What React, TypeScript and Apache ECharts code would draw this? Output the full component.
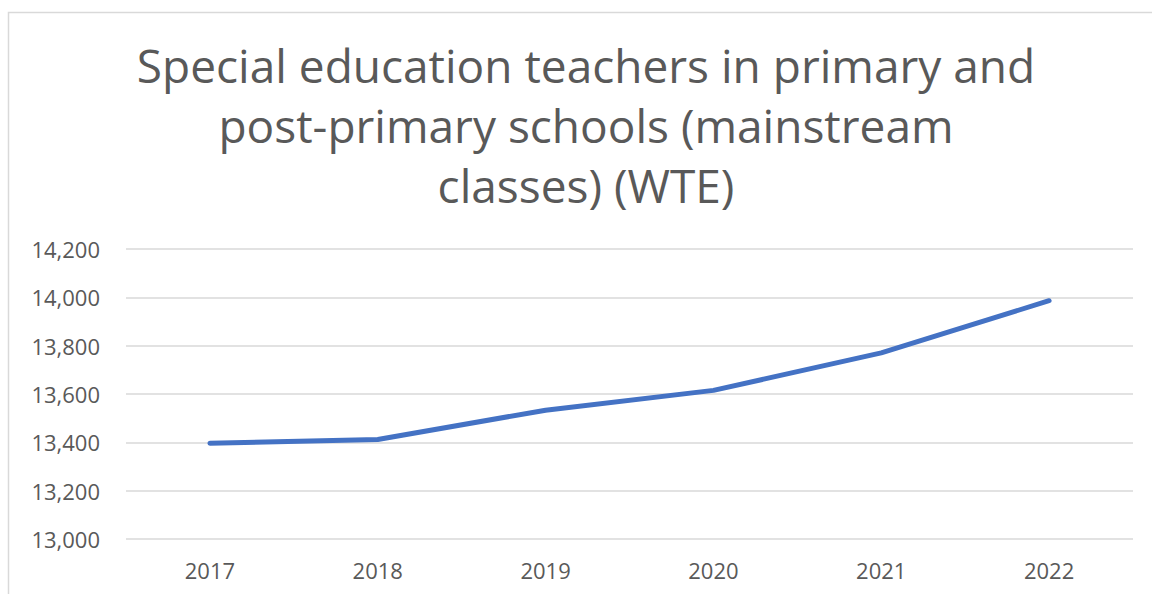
import React, { useEffect, useRef } from "react";
import * as echarts from "echarts";

const titleLines = [
  "Special education teachers in primary and",
  "post-primary schools (mainstream",
  "classes) (WTE)",
];
const years = ["2017", "2018", "2019", "2020", "2021", "2022"];
const teachers = [13396, 13412, 13533, 13615, 13770, 13986];
const yMin = 13000;
const yMax = 14200;
const yStep = 200;

export default function App() {
  const ref = useRef<HTMLDivElement>(null);
  useEffect(() => {
    if (!ref.current) return;
    const chart = echarts.init(ref.current, null, { renderer: "svg" });
    chart.setOption({
      animation: false,
      backgroundColor: "#ffffff",
      title: {
        text: titleLines.join("\n"),
        left: 586,
        top: 35,
        padding: 0,
        textAlign: "center",
        textStyle: {
          fontFamily: "Open Sans",
          fontSize: 46,
          fontWeight: "normal",
          color: "#595959",
          lineHeight: 60,
        },
      },
      graphic: [
        {
          type: "rect",
          shape: { x: 8.5, y: 12.5, width: 1200, height: 640 },
          style: { fill: "none", stroke: "#d9d9d9", lineWidth: 1.5 },
          silent: true,
        },
      ],
      grid: { left: 126, right: 19, top: 249, bottom: 55 },
      xAxis: {
        type: "category",
        data: years,
        boundaryGap: true,
        axisLine: { show: false },
        axisTick: { show: false },
        axisLabel: {
          color: "#595959",
          fontFamily: "Open Sans",
          fontSize: 22,
          margin: 20,
        },
      },
      yAxis: {
        type: "value",
        min: yMin,
        max: yMax,
        interval: yStep,
        axisLine: { show: false },
        axisTick: { show: false },
        splitLine: { lineStyle: { color: "#d9d9d9", width: 1.5 } },
        axisLabel: {
          color: "#595959",
          fontFamily: "Open Sans",
          fontSize: 22,
          margin: 26,
          formatter: (v: number) => v.toLocaleString("en-US"),
        },
      },
      series: [
        {
          type: "line",
          data: teachers,
          symbol: "none",
          lineStyle: { color: "#4472C4", width: 5, cap: "round", join: "round" },
        },
      ],
    });
    return () => chart.dispose();
  }, []);
  return (
    <div
      ref={ref}
      style={{ position: "fixed", left: 0, top: 0, width: 1152, height: 594 }}
    />
  );
}
